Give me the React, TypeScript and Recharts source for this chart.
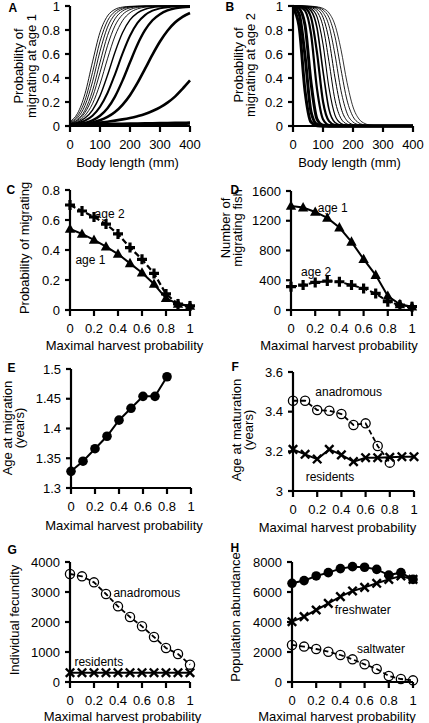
import React from 'react';
import { LineChart, Line, XAxis, YAxis, ReferenceDot } from 'recharts';

const FONT = '"Liberation Sans", Arial, Helvetica, sans-serif';

// ---------- Panel A: probability of migrating at age 1 vs body length ----------
const lenA = [0, 25, 50, 75, 100, 125, 150, 175, 200, 225, 250, 275, 300, 325, 350, 375, 400];
const probA1 = [0.037, 0.105, 0.269, 0.534, 0.781, 0.917, 0.972, 0.991, 0.997, 0.999, 1, 1, 1, 1, 1, 1, 1];
const probA2 = [0.03, 0.084, 0.214, 0.446, 0.705, 0.876, 0.954, 0.984, 0.995, 0.998, 1, 1, 1, 1, 1, 1, 1];
const probA3 = [0.025, 0.067, 0.171, 0.368, 0.622, 0.824, 0.93, 0.974, 0.991, 0.997, 0.999, 1, 1, 1, 1, 1, 1];
const probA4 = [0.02, 0.053, 0.132, 0.293, 0.53, 0.754, 0.893, 0.958, 0.984, 0.994, 0.998, 0.999, 1, 1, 1, 1, 1];
const probA5 = [0.019, 0.047, 0.112, 0.241, 0.445, 0.669, 0.836, 0.928, 0.97, 0.988, 0.995, 0.998, 0.999, 1, 1, 1, 1];
const probA6 = [0.017, 0.039, 0.088, 0.185, 0.35, 0.56, 0.75, 0.877, 0.944, 0.976, 0.99, 0.995, 0.998, 0.999, 1, 1, 1];
const probA7 = [0.015, 0.031, 0.066, 0.133, 0.251, 0.423, 0.615, 0.777, 0.884, 0.943, 0.973, 0.988, 0.994, 0.997, 0.999, 1, 1];
const probA8 = [0.012, 0.023, 0.045, 0.086, 0.159, 0.275, 0.431, 0.603, 0.752, 0.859, 0.924, 0.961, 0.98, 0.99, 0.995, 0.997, 0.998];
const probA9 = [0.008, 0.014, 0.026, 0.047, 0.085, 0.148, 0.245, 0.378, 0.531, 0.679, 0.798, 0.881, 0.932, 0.963, 0.98, 0.989, 0.994];
const probA10 = [0.007, 0.012, 0.019, 0.03, 0.048, 0.076, 0.117, 0.177, 0.257, 0.359, 0.476, 0.595, 0.704, 0.794, 0.862, 0.91, 0.942];
const probA11 = [0.01, 0.013, 0.017, 0.022, 0.028, 0.036, 0.045, 0.055, 0.067, 0.082, 0.1, 0.125, 0.155, 0.195, 0.245, 0.31, 0.38];
const probA12 = [0.008, 0.009, 0.01, 0.011, 0.012, 0.013, 0.014, 0.015, 0.016, 0.017, 0.018, 0.019, 0.02, 0.021, 0.022, 0.023, 0.024];
const seriesA = [probA1, probA2, probA3, probA4, probA5, probA6, probA7, probA8, probA9, probA10, probA11, probA12];
const widthsA = [0.9, 0.9, 0.9, 0.9, 0.9, 0.9, 1.4, 2, 2.4, 2.6, 2.6, 3.5];

// ---------- Panel B: probability of migrating at age 2 vs body length ----------
const lenB = [0, 20, 40, 60, 80, 100, 120, 140, 160, 180, 200, 220, 240, 260, 280, 300, 400];
const probB1 = [0.984, 0.835, 0.294, 0.033, 0.003, 0, 0, 0, 0, 0, 0, 0, 0, 0, 0, 0, 0];
const probB2 = [0.994, 0.937, 0.587, 0.119, 0.013, 0.001, 0, 0, 0, 0, 0, 0, 0, 0, 0, 0, 0];
const probB3 = [0.998, 0.98, 0.841, 0.364, 0.058, 0.007, 0.001, 0, 0, 0, 0, 0, 0, 0, 0, 0, 0];
const probB4 = [0.999, 0.994, 0.961, 0.769, 0.31, 0.057, 0.008, 0.001, 0, 0, 0, 0, 0, 0, 0, 0, 0];
const probB5 = [1, 0.997, 0.984, 0.906, 0.611, 0.204, 0.04, 0.007, 0.001, 0, 0, 0, 0, 0, 0, 0, 0];
const probB6 = [1, 0.998, 0.992, 0.96, 0.818, 0.458, 0.138, 0.029, 0.006, 0.001, 0, 0, 0, 0, 0, 0, 0];
const probB7 = [1, 0.999, 0.995, 0.979, 0.91, 0.683, 0.317, 0.09, 0.021, 0.005, 0.001, 0, 0, 0, 0, 0, 0];
const probB8 = [1, 0.999, 0.997, 0.988, 0.953, 0.828, 0.535, 0.216, 0.062, 0.016, 0.004, 0.001, 0, 0, 0, 0, 0];
const probB9 = [1, 1, 0.998, 0.993, 0.973, 0.906, 0.717, 0.401, 0.151, 0.044, 0.012, 0.003, 0.001, 0, 0, 0, 0];
const probB10 = [1, 1, 0.999, 0.995, 0.984, 0.947, 0.835, 0.593, 0.294, 0.107, 0.033, 0.01, 0.003, 0.001, 0, 0, 0];
const probB11 = [1, 1, 0.999, 0.997, 0.99, 0.968, 0.904, 0.743, 0.47, 0.216, 0.078, 0.025, 0.008, 0.002, 0, 0, 0];
const probB12 = [1, 1, 0.999, 0.998, 0.993, 0.98, 0.942, 0.841, 0.636, 0.364, 0.159, 0.058, 0.02, 0.007, 0.002, 0, 0];
const seriesB = [probB1, probB2, probB3, probB4, probB5, probB6, probB7, probB8, probB9, probB10, probB11, probB12];
const widthsB = [3, 3, 3, 2.2, 2.2, 1.6, 1.1, 1, 1, 0.9, 0.9, 0.8];

const lengthTicks = [0, 100, 200, 300, 400];
const probTicks = [0, 0.2, 0.4, 0.6, 0.8, 1];

// ---------- Panels C–H: vs maximal harvest probability ----------
const harvest = [0, 0.1, 0.2, 0.3, 0.4, 0.5, 0.6, 0.7, 0.8, 0.9, 1];
const harvestTicks = [0, 0.2, 0.4, 0.6, 0.8, 1];

const cAge1 = [0.54, 0.507, 0.467, 0.422, 0.373, 0.311, 0.249, 0.173, 0.078, 0.04, 0.027];
const cAge2 = [0.7, 0.66, 0.62, 0.573, 0.507, 0.416, 0.338, 0.244, 0.107, 0.04, 0.027];
const cTicks = [0, 0.2, 0.4, 0.6, 0.8];

const dAge1 = [1399, 1377, 1318, 1238, 1108, 916, 684, 469, 188, 76, 45];
const dAge2 = [313, 335, 371, 389, 380, 335, 290, 223, 112, 67, 45];
const dTicks = [0, 400, 800, 1200, 1600];

const eAgeMigration = [1.328, 1.345, 1.366, 1.387, 1.414, 1.434, 1.454, 1.454, 1.487];
const eTicks = [1.3, 1.35, 1.4, 1.45, 1.5];

const fAnadromous = [3.455, 3.455, 3.408, 3.405, 3.388, 3.333, 3.341, 3.227, 3.143];
const fResidents = [3.21, 3.185, 3.161, 3.21, 3.182, 3.148, 3.168, 3.168, 3.17, 3.173, 3.173];
const fTicks = [3, 3.2, 3.4, 3.6];

const gAnadromous = [3600, 3522, 3322, 2933, 2522, 2167, 1856, 1500, 1133, 933, 578];
const gResidents = [310, 310, 310, 310, 310, 310, 310, 310, 310, 310, 310];
const gTicks = [0, 1000, 2000, 3000, 4000];

const hTotal = [6580, 6760, 7070, 7290, 7560, 7690, 7650, 7510, 7130, 7290, 6840];
const hFreshwater = [4020, 4360, 4800, 5240, 5690, 6070, 6310, 6580, 6840, 7070, 6840];
const hSaltwater = [2470, 2360, 2200, 2020, 1800, 1510, 1180, 870, 400, 200, 110];
const hTicks = [0, 2000, 4000, 6000, 8000];

function makeRows(xs: number[], series: Record<string, number[]>) {
  return xs.map((x, i) => {
    const r: any = { x };
    Object.keys(series).forEach((k) => {
      r[k] = series[k][i];
    });
    return r;
  });
}

const rowsA = makeRows(lenA, Object.fromEntries(seriesA.map((s, i) => ['s' + i, s])));
const rowsB = makeRows(lenB, Object.fromEntries(seriesB.map((s, i) => ['s' + i, s])));
const rowsC = makeRows(harvest, { age1: cAge1, age2: cAge2 });
const rowsD = makeRows(harvest, { age1: dAge1, age2: dAge2 });
const rowsE = makeRows(harvest, { age: eAgeMigration });
const rowsF = makeRows(harvest, { anad: fAnadromous, res: fResidents });
const rowsG = makeRows(harvest, { anad: gAnadromous, res: gResidents });
const rowsH = makeRows(harvest, { total: hTotal, fresh: hFreshwater, salt: hSaltwater });

// ---------- markers ----------
const bad = (p: any) => p.cx == null || p.cy == null || isNaN(p.cx) || isNaN(p.cy) || p.value == null;
const triDot = (p: any) =>
  bad(p) ? <g key={'t' + p.index} /> : (
    <polygon key={'t' + p.index} points={`${p.cx},${p.cy - 5.5} ${p.cx - 5.2},${p.cy + 3.8} ${p.cx + 5.2},${p.cy + 3.8}`} fill="#000" />
  );
const plusDot = (p: any) =>
  bad(p) ? <g key={'p' + p.index} /> : (
    <path key={'p' + p.index} d={`M${p.cx - 5},${p.cy}H${p.cx + 5}M${p.cx},${p.cy - 5}V${p.cy + 5}`} stroke="#000" strokeWidth={3.2} fill="none" />
  );
const crossDot = (p: any) =>
  bad(p) ? <g key={'x' + p.index} /> : (
    <path key={'x' + p.index} d={`M${p.cx - 4.2},${p.cy - 4.2}L${p.cx + 4.2},${p.cy + 4.2}M${p.cx - 4.2},${p.cy + 4.2}L${p.cx + 4.2},${p.cy - 4.2}`} stroke="#000" strokeWidth={2.4} fill="none" />
  );
const fullDot = (p: any) =>
  bad(p) ? <g key={'f' + p.index} /> : <circle key={'f' + p.index} cx={p.cx} cy={p.cy} r={4.8} fill="#000" />;
const openDot = (p: any) =>
  bad(p) ? <g key={'o' + p.index} /> : <circle key={'o' + p.index} cx={p.cx} cy={p.cy} r={4.6} fill="none" stroke="#000" strokeWidth={1.3} />;

// ---------- panel frame ----------
type Geo = { left: number; top: number; width: number; height: number; px: number; py: number; pw: number; ph: number };
type Deco = {
  letter: { t: string; x: number; y: number };
  yLines: { t: string; x: number }[];
  yc: number;
  xTitle: { t: string; x: number; y: number };
};

const axisStyle = { stroke: '#000', strokeWidth: 2.2 };
const tickStyle = { fill: '#000', fontSize: 13 };

function Panel(props: {
  g: Geo;
  rows: any[];
  xDomain: number[];
  xTicks: number[];
  yDomain: number[];
  yTicks: number[];
  deco: Deco;
  children: React.ReactNode;
}) {
  const { g, deco } = props;
  const ox = g.left;
  const oy = g.top;
  const titleLayer = () => (
    <g>
      <text x={deco.letter.x - ox} y={deco.letter.y - oy} fontWeight="bold" fontSize={12} fill="#000">
        {deco.letter.t}
      </text>
      {deco.yLines.map((l, i) => (
        <text
          key={i}
          x={l.x - ox}
          y={deco.yc - oy}
          transform={`rotate(-90 ${l.x - ox} ${deco.yc - oy})`}
          textAnchor="middle"
          fontSize={13}
          fill="#000"
        >
          {l.t}
        </text>
      ))}
      <text x={deco.xTitle.x - ox} y={deco.xTitle.y - oy} textAnchor="middle" fontSize={13} fill="#000">
        {deco.xTitle.t}
      </text>
    </g>
  );
  return (
    <div style={{ position: 'absolute', left: g.left, top: g.top, width: g.width, height: g.height }}>
      <LineChart
        width={g.width}
        height={g.height}
        data={props.rows}
        margin={{ top: g.py - g.top, right: g.left + g.width - (g.px + g.pw), bottom: 0, left: 0 }}
        style={{ overflow: 'visible' }}
      >
        <XAxis
          type="number"
          dataKey="x"
          domain={props.xDomain}
          ticks={props.xTicks}
          interval={0}
          height={g.top + g.height - (g.py + g.ph)}
          axisLine={axisStyle}
          tickLine={axisStyle}
          tickSize={6}
          tickMargin={8}
          tick={tickStyle}
        />
        <YAxis
          type="number"
          domain={props.yDomain}
          ticks={props.yTicks}
          interval={0}
          width={g.px - g.left}
          axisLine={axisStyle}
          tickLine={axisStyle}
          tickSize={5}
          tickMargin={5}
          tick={tickStyle}
          label={titleLayer}
        />
        {props.children}
      </LineChart>
    </div>
  );
}

const txt = (x: number, y: number, value: string, key: string) => (
  <ReferenceDot
    key={key}
    x={x}
    y={y}
    r={1}
    fill="none"
    stroke="none"
    label={{ value, position: 'center', fill: '#000', fontSize: 12 }}
  />
);

const lineCommon = { isAnimationActive: false, activeDot: false as const, stroke: '#000', type: 'linear' as const };

export default function App() {
  return (
    <div style={{ position: 'absolute', left: 0, top: 0, width: 429, height: 723, background: '#fff', fontFamily: FONT }}>
      <Panel
        g={{ left: 0, top: 0, width: 205, height: 172, px: 70, py: 6, pw: 120, ph: 120 }}
        rows={rowsA}
        xDomain={[0, 400]}
        xTicks={lengthTicks}
        yDomain={[0, 1]}
        yTicks={probTicks}
        deco={{
          letter: { t: 'A', x: 8.5, y: 11.5 },
          yLines: [{ t: 'Probability of', x: 23 }, { t: 'migrating at age 1', x: 36 }],
          yc: 66,
          xTitle: { t: 'Body length (mm)', x: 127.5, y: 166.5 },
        }}
      >
        {seriesA.map((_, i) => (
          <Line key={'a' + i} {...lineCommon} type="monotone" dataKey={'s' + i} strokeWidth={widthsA[i]} dot={false} />
        ))}
      </Panel>

      <Panel
        g={{ left: 214, top: 0, width: 215, height: 172, px: 293, py: 6, pw: 120, ph: 120 }}
        rows={rowsB}
        xDomain={[0, 400]}
        xTicks={lengthTicks}
        yDomain={[0, 1]}
        yTicks={probTicks}
        deco={{
          letter: { t: 'B', x: 225.5, y: 10.5 },
          yLines: [{ t: 'Probability of', x: 242.5 }, { t: 'migrating at age 2', x: 255 }],
          yc: 65,
          xTitle: { t: 'Body length (mm)', x: 349.5, y: 166.5 },
        }}
      >
        {seriesB.map((_, i) => (
          <Line key={'b' + i} {...lineCommon} type="monotone" dataKey={'s' + i} strokeWidth={widthsB[i]} dot={false} />
        ))}
      </Panel>

      <Panel
        g={{ left: 0, top: 172, width: 205, height: 182, px: 70, py: 190, pw: 120, ph: 120 }}
        rows={rowsC}
        xDomain={[0, 1]}
        xTicks={harvestTicks}
        yDomain={[0, 0.8]}
        yTicks={cTicks}
        deco={{
          letter: { t: 'C', x: 6.5, y: 193.5 },
          yLines: [{ t: 'Probability of migrating', x: 29 }],
          yc: 248,
          xTitle: { t: 'Maximal harvest probability', x: 124.5, y: 349.5 },
        }}
      >
        {[
          <Line key="c1" {...lineCommon} dataKey="age1" strokeWidth={2} dot={triDot} />,
          <Line key="c2" {...lineCommon} dataKey="age2" strokeWidth={2.2} strokeDasharray="6 3" dot={plusDot} />,
          txt(0.33, 0.64, 'age 2', 'l1'),
          txt(0.17, 0.335, 'age 1', 'l2'),
        ]}
      </Panel>

      <Panel
        g={{ left: 214, top: 172, width: 215, height: 182, px: 291, py: 191, pw: 121, ph: 119 }}
        rows={rowsD}
        xDomain={[0, 1]}
        xTicks={harvestTicks}
        yDomain={[0, 1600]}
        yTicks={dTicks}
        deco={{
          letter: { t: 'D', x: 230.5, y: 193.5 },
          yLines: [{ t: 'Number of', x: 230 }, { t: 'migrating fish', x: 242 }],
          yc: 228,
          xTitle: { t: 'Maximal harvest probability', x: 339, y: 349.5 },
        }}
      >
        {[
          <Line key="d1" {...lineCommon} dataKey="age1" strokeWidth={2} dot={triDot} />,
          <Line key="d2" {...lineCommon} dataKey="age2" strokeWidth={2} strokeDasharray="6 3" dot={plusDot} />,
          txt(0.345, 1376, 'age 1', 'l1'),
          txt(0.207, 514, 'age 2', 'l2'),
        ]}
      </Panel>

      <Panel
        g={{ left: 0, top: 354, width: 205, height: 180, px: 71, py: 369, pw: 120, ph: 119 }}
        rows={rowsE}
        xDomain={[0, 1]}
        xTicks={harvestTicks}
        yDomain={[1.3, 1.5]}
        yTicks={eTicks}
        deco={{
          letter: { t: 'E', x: 7.5, y: 372 },
          yLines: [{ t: 'Age at migration', x: 11.5 }, { t: '(years)', x: 23.5 }],
          yc: 428,
          xTitle: { t: 'Maximal harvest probability', x: 124, y: 529.5 },
        }}
      >
        {[<Line key="e1" {...lineCommon} dataKey="age" strokeWidth={2} dot={fullDot} />]}
      </Panel>

      <Panel
        g={{ left: 214, top: 354, width: 215, height: 181, px: 293, py: 372, pw: 121, ph: 119 }}
        rows={rowsF}
        xDomain={[0, 1]}
        xTicks={harvestTicks}
        yDomain={[3, 3.6]}
        yTicks={fTicks}
        deco={{
          letter: { t: 'F', x: 231.5, y: 370.5 },
          yLines: [{ t: 'Age at maturation', x: 241 }, { t: '(years)', x: 253 }],
          yc: 430,
          xTitle: { t: 'Maximal harvest probability', x: 337.5, y: 531.5 },
        }}
      >
        {[
          <Line key="f1" {...lineCommon} dataKey="anad" strokeWidth={1.8} strokeDasharray="5 3" dot={openDot} />,
          <Line key="f2" {...lineCommon} dataKey="res" strokeWidth={2} dot={crossDot} />,
          txt(0.46, 3.5, 'anadromous', 'l1'),
          txt(0.306, 3.072, 'residents', 'l2'),
        ]}
      </Panel>

      <Panel
        g={{ left: 0, top: 535, width: 205, height: 188, px: 70, py: 562, pw: 120, ph: 120 }}
        rows={rowsG}
        xDomain={[0, 1]}
        xTicks={harvestTicks}
        yDomain={[0, 4000]}
        yTicks={gTicks}
        deco={{
          letter: { t: 'G', x: 7.5, y: 553.5 },
          yLines: [{ t: 'Individual fecundity', x: 18.5 }],
          yc: 620,
          xTitle: { t: 'Maximal harvest probability', x: 122.5, y: 720.5 },
        }}
      >
        {[
          <Line key="g1" {...lineCommon} dataKey="anad" strokeWidth={1.8} strokeDasharray="5 3" dot={openDot} />,
          <Line key="g2" {...lineCommon} dataKey="res" strokeWidth={2} dot={crossDot} />,
          txt(0.64, 2990, 'anadromous', 'l1'),
          txt(0.24, 690, 'residents', 'l2'),
        ]}
      </Panel>

      <Panel
        g={{ left: 214, top: 535, width: 215, height: 188, px: 292, py: 562, pw: 121, ph: 120 }}
        rows={rowsH}
        xDomain={[0, 1]}
        xTicks={harvestTicks}
        yDomain={[0, 8000]}
        yTicks={hTicks}
        deco={{
          letter: { t: 'H', x: 230.5, y: 551.5 },
          yLines: [{ t: 'Population abundance', x: 240 }],
          yc: 617,
          xTitle: { t: 'Maximal harvest probability', x: 337, y: 720.5 },
        }}
      >
        {[
          <Line key="h1" {...lineCommon} dataKey="salt" strokeWidth={1.8} strokeDasharray="5 3" dot={openDot} />,
          <Line key="h2" {...lineCommon} dataKey="fresh" strokeWidth={2} dot={crossDot} />,
          <Line key="h3" {...lineCommon} dataKey="total" strokeWidth={2} dot={fullDot} />,
          txt(0.176, 8022, 'total', 'l1'),
          txt(0.584, 4800, 'freshwater', 'l2'),
          txt(0.735, 2200, 'saltwater', 'l3'),
        ]}
      </Panel>
    </div>
  );
}
